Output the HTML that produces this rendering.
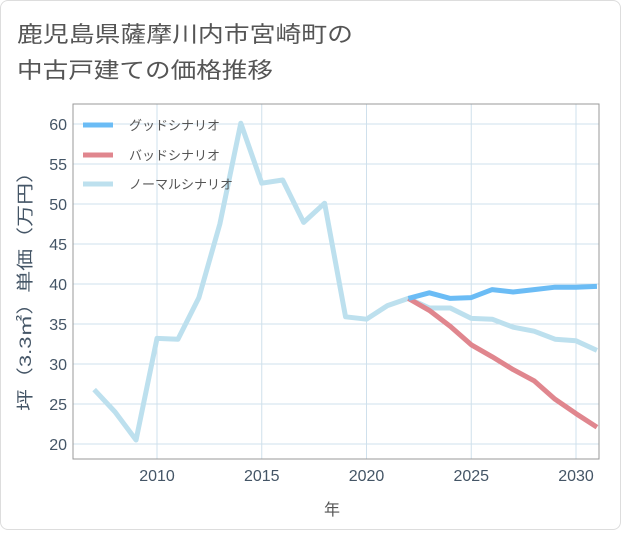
<!DOCTYPE html>
<html><head><meta charset="utf-8"><style>
body{margin:0;background:#fff;font-family:"Liberation Sans","Noto Sans CJK JP",sans-serif;}
#card{position:absolute;left:0;top:0;width:619px;height:528px;border:1px solid #ddd;border-radius:8px;background:#fff;}
</style></head><body>
<div id="card">
<svg id="chart" width="621" height="530">
<text x="16" y="41" font-size="22" fill="#555" textLength="336" lengthAdjust="spacingAndGlyphs">鹿児島県薩摩川内市宮崎町の</text>
<text x="16" y="77" font-size="22" fill="#555" textLength="256" lengthAdjust="spacingAndGlyphs">中古戸建ての価格推移</text>
<g id="grid"></g><g id="series"></g><g id="axes"></g>
<text x="331" y="514" font-size="16" fill="#555" text-anchor="middle">年</text>
<text transform="translate(30,285) rotate(-90)" font-size="17" fill="#456" text-anchor="middle" textLength="250" lengthAdjust="spacingAndGlyphs">坪（3.3㎡）単価（万円）</text>
<g>
<line x1="82" y1="124" x2="112" y2="124" stroke="#6bbcf5" stroke-width="5"/>
<text x="128" y="129" font-size="13" fill="#555">グッドシナリオ</text>
<line x1="82" y1="154" x2="112" y2="154" stroke="#e0868e" stroke-width="5"/>
<text x="128" y="159" font-size="13" fill="#555">バッドシナリオ</text>
<line x1="82" y1="183" x2="112" y2="183" stroke="#bde0ee" stroke-width="5"/>
<text x="128" y="188" font-size="13" fill="#555">ノーマルシナリオ</text>
</g>
</svg></div>
<script>
const normalYears=[2007,2008,2009,2010,2011,2012,2013,2014,2015,2016,2017,2018,2019,2020,2021,2022,2023,2024,2025,2026,2027,2028,2029,2030,2031];
const normalValues=[26.8,24,20.5,33.2,33.1,38.3,47.5,60.1,52.6,53,47.7,50.1,35.9,35.6,37.3,38.2,37,37,35.7,35.6,34.6,34.1,33.1,32.9,31.7];
const scenarioYears=[2022,2023,2024,2025,2026,2027,2028,2029,2030,2031];
const goodValues=[38.2,38.9,38.2,38.3,39.3,39,39.3,39.6,39.6,39.7];
const badValues=[38.2,36.7,34.7,32.4,30.9,29.3,27.9,25.6,23.8,22.1];
const xTicks=[2010,2015,2020,2025,2030];
const yTicks=[20,25,30,35,40,45,50,55,60];
const L=72,R=598,T=103,B=458;
const xs=y=>156+(y-2010)*(575-156)/20;
const ys=v=>443-(v-20)*(443-123)/40;
const NS="http://www.w3.org/2000/svg";
function mk(tag,attrs,parent){const e=document.createElementNS(NS,tag);for(const k in attrs)e.setAttribute(k,attrs[k]);parent.appendChild(e);return e;}
const grid=document.getElementById('grid'),ser=document.getElementById('series'),ax=document.getElementById('axes');
yTicks.forEach(v=>{
 const l=mk('line',{x1:L,x2:R,y1:ys(v),y2:ys(v),stroke:'#cfe0ec','stroke-width':1},grid);
 
 
 const t=mk('text',{x:66,y:ys(v)+6,'font-size':16,fill:'#456','text-anchor':'end'},ax);
 t.textContent=v;
 
 
});
xTicks.forEach(v=>{
 const l=mk('line',{x1:xs(v),x2:xs(v),y1:T,y2:B,stroke:'#cfe0ec','stroke-width':1},grid);
 
 
 const t=mk('text',{x:xs(v),y:B+22,'font-size':16,fill:'#456','text-anchor':'middle'},ax);
 t.textContent=v;
 
 
});
const fr=mk('rect',{x:L,y:T,width:R-L,height:B-T,fill:'none',stroke:'#999','stroke-width':1},ax);


const cp=mk('clipPath',{id:'cp'},ser);mk('rect',{x:L,y:T,width:R-L,height:B-T},cp);
function line(xa,va,color,name){
 const p=mk('polyline',{points:xa.map((x,i)=>xs(x)+','+ys(va[i])).join(' '),fill:'none',stroke:color,'stroke-width':5,'stroke-linejoin':'round','clip-path':'url(#cp)'},ser);
 
 
}
line(normalYears,normalValues,'#bde0ee','normal-scenario-line');
line(scenarioYears,badValues,'#e0868e','bad-scenario-line');
line(scenarioYears,goodValues,'#6bbcf5','good-scenario-line');
</script>
</body></html>
